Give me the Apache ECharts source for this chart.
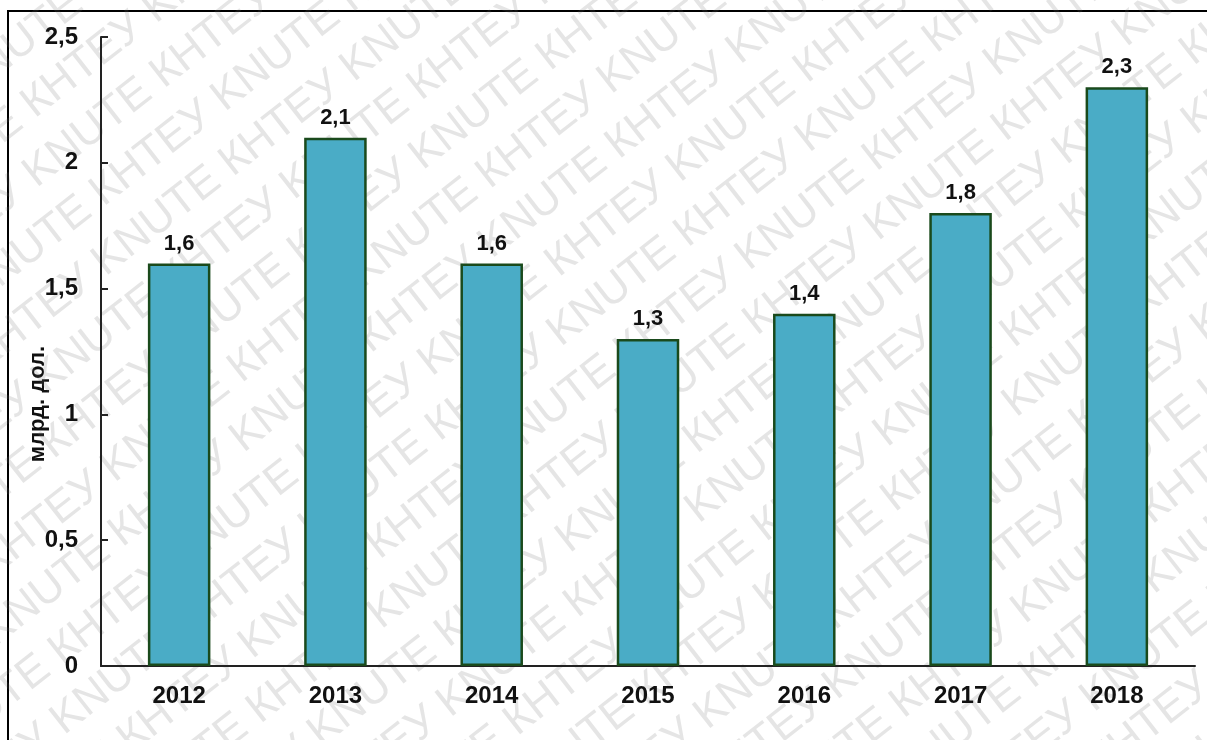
<!DOCTYPE html>
<html>
<head>
<meta charset="utf-8">
<title>млрд. дол., 2012–2018</title>
<script src="https://cdn.jsdelivr.net/npm/echarts@6/dist/echarts.min.js"></script>
<style>
  html, body { margin: 0; padding: 0; background: #fff; }
  #chart { width: 1207px; height: 740px; }
</style>
</head>
<body>
<div id="chart"></div>
<script>
// Chart data
const years = ['2012', '2013', '2014', '2015', '2016', '2017', '2018'];
const values = [1.6, 2.1, 1.6, 1.3, 1.4, 1.8, 2.3];
const axisName = 'млрд. дол.';
const watermarkWords = ['KNUTE', 'КНТЕУ'];

const FONT = '"Liberation Sans", Arial, sans-serif';
const comma = v => String(v).replace('.', ',');

// Diagonal repeated watermark lines
const wmText = Array(12).fill(watermarkWords.join(' ')).join(' ');
const wmLines = [];
for (let i = -18; i <= 18; i++) {
  wmLines.push({
    type: 'text',
    x: -1400 + (i % 2 ? 120 : 0),
    y: i * 56,
    silent: true,
    style: {
      text: wmText,
      font: '44px ' + FONT,
      fill: 'rgba(110,110,110,0.18)',
      verticalAlign: 'middle'
    }
  });
}

const chart = echarts.init(document.getElementById('chart'), null, { renderer: 'canvas' });
chart.setOption({
  backgroundColor: '#fff',
  animation: false,
  grid: { left: 101, right: 12, top: 37, bottom: 74, containLabel: false },
  xAxis: {
    type: 'category',
    data: years,
    axisLine: { show: true, lineStyle: { color: '#222', width: 2 } },
    axisTick: { show: false },
    axisLabel: {
      margin: 18,
      color: '#111',
      fontFamily: FONT,
      fontWeight: 'bold',
      fontSize: 24
    }
  },
  yAxis: {
    type: 'value',
    min: 0,
    max: 2.5,
    interval: 0.5,
    splitLine: { show: false },
    axisLine: { show: true, lineStyle: { color: '#222', width: 2 } },
    axisTick: { show: true, inside: true, length: 7, lineStyle: { color: '#222', width: 2 } },
    axisLabel: {
      margin: 23,
      color: '#111',
      fontFamily: FONT,
      fontWeight: 'bold',
      fontSize: 24,
      formatter: v => comma(v)
    }
  },
  series: [{
    type: 'bar',
    data: values,
    barWidth: '40%',
    itemStyle: {
      color: '#4AACC6',
      borderColor: '#1A4A1C',
      borderWidth: 2.5
    },
    label: {
      show: true,
      position: 'top',
      distance: 9,
      color: '#111',
      fontFamily: FONT,
      fontWeight: 'bold',
      fontSize: 22,
      formatter: p => comma(p.value)
    }
  }],
  graphic: [
    {
      type: 'rect',
      silent: true,
      z: -10,
      shape: { x: 8, y: 11, width: 1400, height: 1000 },
      style: { fill: 'none', stroke: '#000', lineWidth: 2 }
    },
    {
      type: 'text',
      x: 38,
      y: 404,
      rotation: Math.PI / 2,
      silent: true,
      style: {
        text: axisName,
        font: 'bold 22px ' + FONT,
        fill: '#111',
        align: 'center',
        verticalAlign: 'middle'
      }
    },
    {
      type: 'group',
      x: 603,
      y: 370,
      rotation: 38 * Math.PI / 180,
      z: 100,
      silent: true,
      children: wmLines
    }
  ]
});
</script>
</body>
</html>
